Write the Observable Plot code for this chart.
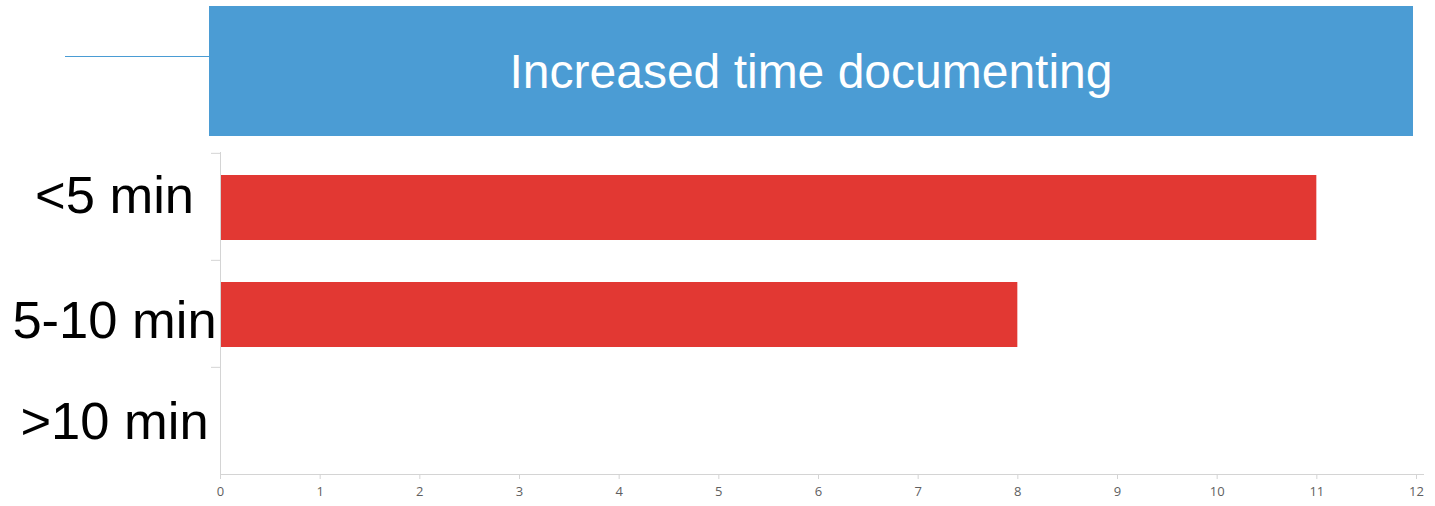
<!DOCTYPE html>
<html>
<head>
<meta charset="utf-8">
<script src="https://cdn.jsdelivr.net/npm/d3@7"></script>
<script src="https://cdn.jsdelivr.net/npm/@observablehq/plot@0.6"></script>
<style>
  html, body { margin: 0; padding: 0; background: #fff; }
  #chart svg { display: block; }
</style>
</head>
<body>
<div id="chart"></div>
<script>
// Survey answers: extra time spent documenting
const title = "Increased time documenting";
const categories = ["<5 min", "5-10 min", ">10 min"];
const counts = [11, 8, 0];
const xTicks = [0, 1, 2, 3, 4, 5, 6, 7, 8, 9, 10, 11, 12];

const rows = categories.map((c, i) => ({category: c, count: counts[i]}));

const W = 1435, H = 506;
const mTop = 152, mLeft = 220, mRight = 19, mBottom = 32;
const bandH = (H - mTop - mBottom) / categories.length;
// vertical nudge of each big category label relative to its band centre
const labelNudge = [-11, 7, 1];

const chart = Plot.plot({
  width: W,
  height: H,
  marginTop: mTop,
  marginLeft: mLeft,
  marginRight: mRight,
  marginBottom: mBottom,
  style: {background: "#fff", overflow: "visible"},
  x: {domain: [0, 12]},
  y: {domain: categories, padding: 0},
  marks: [
    Plot.barX(rows, {
      x: "count", y: "category", fill: "#e23833",
      insetTop: 22, insetBottom: 20
    }),
    // axis lines
    Plot.frame({anchor: "left", stroke: "#d4d4d4"}),
    Plot.frame({anchor: "bottom", stroke: "#d4d4d4"}),
    // category separators on the y axis
    Plot.axisY({
      tickSize: 9, text: null, label: null, dy: -bandH / 2, stroke: "#d4d4d4"
    }),
    // category labels
    ...categories.map((c, i) => Plot.text([c], {
      y: d => d, frameAnchor: "left", dx: -106, dy: labelNudge[i],
      textAnchor: "middle", fontSize: 52.5, fill: "#000",
      fontFamily: "'Liberation Sans', Arial, sans-serif"
    })),
    Plot.axisX({
      ticks: xTicks, tickSize: 5, tickPadding: 7, stroke: "#d4d4d4",
      color: "#5f5f5f", fontSize: 13, tickFormat: d => String(d),
      fontFamily: "'Open Sans', sans-serif", label: null
    })
  ]
});

document.getElementById("chart").appendChild(chart);

const svg = d3.select(chart);

// the baseline runs a little past the last tick
const xs = chart.scale("x");
svg.append("line")
  .attr("x1", xs.apply(12)).attr("x2", xs.apply(12) + 8)
  .attr("y1", H - mBottom + 0.5).attr("y2", H - mBottom + 0.5)
  .attr("stroke", "#d4d4d4");

// Title banner and its leader line
const head = svg.insert("g", ":first-child");
head.append("line")
  .attr("x1", 65).attr("x2", 209).attr("y1", 56.5).attr("y2", 56.5)
  .attr("stroke", "#4a9cd4").attr("stroke-width", 1.2);
head.append("rect")
  .attr("x", 209).attr("y", 6).attr("width", 1204).attr("height", 130)
  .attr("fill", "#4b9cd4");
head.append("text")
  .attr("x", 811).attr("y", 88)
  .attr("text-anchor", "middle")
  .attr("fill", "#fff")
  .attr("font-size", 48)
  .attr("font-family", "'Liberation Sans', Arial, sans-serif")
  .text(title);
</script>
</body>
</html>
